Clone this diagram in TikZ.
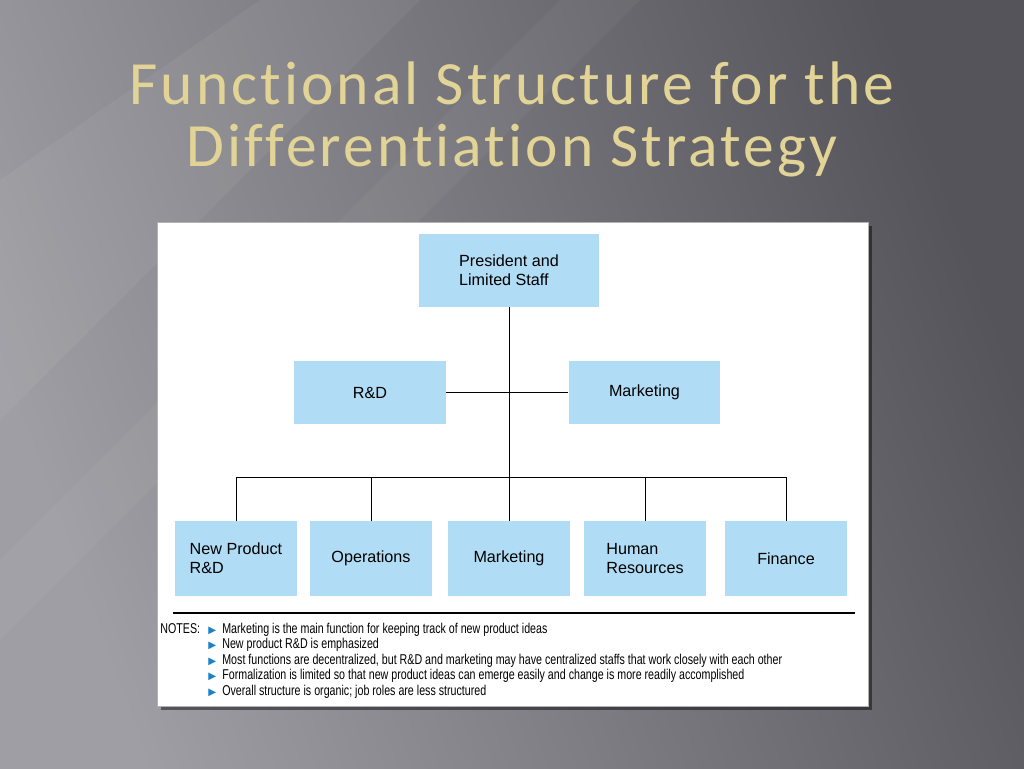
\documentclass[tikz,border=0pt]{standalone}
\usepackage{fontspec}
\setmainfont{Liberation Sans}
\newfontfamily\titlefont[LetterSpace=5, Ligatures=NoCommon]{Carlito}
\newfontfamily\notefont[FakeStretch=0.75]{Liberation Sans}
\newfontfamily\bulletfont{DejaVu Sans}
\usepackage{tikz}
\usetikzlibrary{positioning, calc, shadows}
\definecolor{fundoclaro}{RGB}{158,158,164}
\definecolor{fundoescuro}{RGB}{84,84,90}
\definecolor{tituloouro}{RGB}{226,212,150}
\definecolor{caixaazul}{RGB}{176,221,245}
\definecolor{marcador}{RGB}{30,130,200}

\begin{document}
\begin{tikzpicture}[x=0.02cm, y=-0.02cm,
    box/.style={fill=caixaazul, rectangle, inner sep=0pt, align=left, font=\fontsize{9.2}{11}\selectfont},
    topbox/.style={box, minimum width=3.62cm, minimum height=1.46cm},
    midbox/.style={box, minimum width=3.04cm, minimum height=1.26cm},
    lowbox/.style={box, minimum width=2.44cm, minimum height=1.5cm},
    link/.style={draw=black, line width=0.5pt},
    title/.style={anchor=base, inner sep=0pt, text=tituloouro, font=\titlefont\fontsize{35}{40}\selectfont},
    note/.style={anchor=base west, inner sep=0pt, font=\notefont\fontsize{8.1}{9}\selectfont},
    bullet/.style={anchor=base west, inner sep=0pt, text=marcador, font=\bulletfont\fontsize{5.8}{7}\selectfont}
]
    % Background
    \useasboundingbox (0,0) rectangle (1024,768);
    \shade[left color=fundoclaro, right color=fundoescuro, shading angle=110] (0,0) rectangle (1024,768);
    \fill[white, opacity=0.05] (0,180) -- (260,0) -- (420,0) -- (0,420) -- cycle;
    \fill[white, opacity=0.04] (0,560) -- (560,0) -- (640,0) -- (0,640) -- cycle;

    % Title
    \node[title] (titulo1) at (512,104) {Functional Structure for the};
    \node[title] (titulo2) at (512,166) {Differentiation Strategy};

    % Panel
    \fill[black, opacity=0.45] (161,226) rectangle (872,710);
    \draw[fill=white, draw=gray!60] (157,222) rectangle (868,706);

    % Boxes
    \node[topbox] (pres) at (509,270.5) {President and\\Limited Staff};
    \node[midbox] (rd) at (370,392.5) {R\&D};
    \node[midbox] (mkt) at (644.5,392.5) {Marketing};

    \node[lowbox] (newrd) at (236,558.5) {New Product\\R\&D};
    \node[lowbox] (oper) at (371,558.5) {Operations};
    \node[lowbox] (mktb) at (509,558.5) {Marketing};
    \node[lowbox] (hr) at (645,558.5) {Human\\Resources};
    \node[lowbox] (fin) at (786,558.5) {Finance};

    % Connections
    \coordinate (bus) at (509,477);
    \draw[link] (pres.south) -- (mktb.north);
    \draw[link] (rd.east) -- (mkt.west);
    \draw[link] (newrd.north |- bus) -- (fin.north |- bus);
    \draw[link] (newrd.north) -- (newrd.north |- bus);
    \draw[link] (oper.north) -- (oper.north |- bus);
    \draw[link] (hr.north) -- (hr.north |- bus);
    \draw[link] (fin.north) -- (fin.north |- bus);

    % Notes
    \coordinate (regraL) at (173,613);
    \coordinate (regraR) at (855,613);
    \draw[line width=1.3pt] (regraL) -- (regraR);

    \node[note] (notas) at (160,633) {NOTES:};
    \node[bullet] (b1) at (208,633) {▶};
    \node[bullet] (b2) at (208,648.5) {▶};
    \node[bullet] (b3) at (208,664) {▶};
    \node[bullet] (b4) at (208,679.5) {▶};
    \node[bullet] (b5) at (208,695) {▶};
    \node[note] (n1) at (222,633) {Marketing is the main function for keeping track of new product ideas};
    \node[note] (n2) at (222,648.5) {New product R\&D is emphasized};
    \node[note] (n3) at (222,664) {Most functions are decentralized, but R\&D and marketing may have centralized staffs that work closely with each other};
    \node[note] (n4) at (222,679.5) {Formalization is limited so that new product ideas can emerge easily and change is more readily accomplished};
    \node[note] (n5) at (222,695) {Overall structure is organic; job roles are less structured};
\end{tikzpicture}
\end{document}
